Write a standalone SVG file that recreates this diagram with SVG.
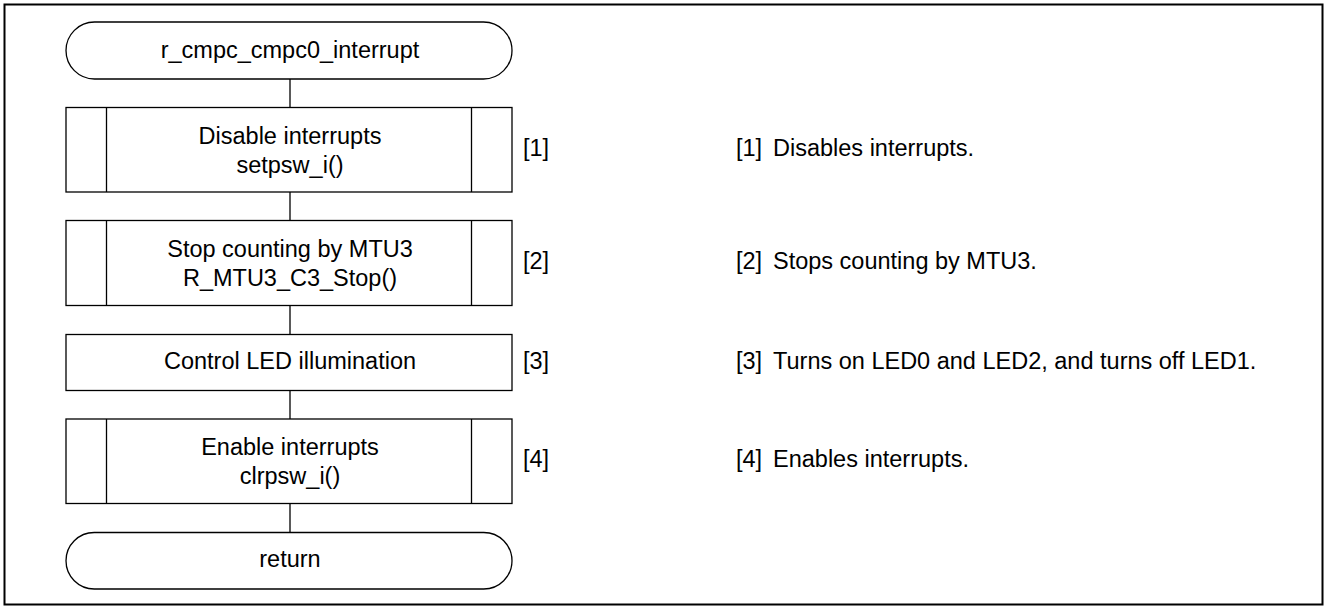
<svg xmlns="http://www.w3.org/2000/svg" width="1326" height="608" viewBox="0 0 1326 608">
<style>
  text { font-family: "Liberation Sans", Arial, sans-serif; font-size: 23.5px; fill: #000; }
  .c { text-anchor: middle; }
  .shape { fill: #fff; stroke: #000; stroke-width: 1.3; }
  .line { stroke: #000; stroke-width: 1.3; fill: none; }
</style>
<rect x="0" y="0" width="1326" height="608" fill="#fff"/>
<rect x="4.5" y="4.5" width="1318" height="600" fill="none" stroke="#000" stroke-width="2"/>
<g id="connectors">
  <line class="line" x1="290" y1="79" x2="290" y2="107.5"/>
  <line class="line" x1="290" y1="192" x2="290" y2="220.5"/>
  <line class="line" x1="290" y1="305.5" x2="290" y2="334.5"/>
  <line class="line" x1="290" y1="390.5" x2="290" y2="419"/>
  <line class="line" x1="290" y1="503.5" x2="290" y2="532.5"/>
</g>
<g id="start">
  <rect class="shape" x="66" y="22" width="446" height="57" rx="28.5" ry="28.5"/>
  <text class="c" x="290" y="57.5">r_cmpc_cmpc0_interrupt</text>
</g>
<g id="step1">
  <rect class="shape" x="66" y="107.5" width="446" height="84.5"/>
  <line class="line" x1="106.5" y1="107.5" x2="106.5" y2="192"/>
  <line class="line" x1="471.5" y1="107.5" x2="471.5" y2="192"/>
  <text class="c" x="290" y="143.5">Disable interrupts</text>
  <text class="c" x="290" y="172.5">setpsw_i()</text>
  <text x="523" y="156">[1]</text>
</g>
<g id="step2">
  <rect class="shape" x="66" y="220.5" width="446" height="85"/>
  <line class="line" x1="106.5" y1="220.5" x2="106.5" y2="305.5"/>
  <line class="line" x1="471.5" y1="220.5" x2="471.5" y2="305.5"/>
  <text class="c" x="290" y="257">Stop counting by MTU3</text>
  <text class="c" x="290" y="286">R_MTU3_C3_Stop()</text>
  <text x="523" y="269">[2]</text>
</g>
<g id="step3">
  <rect class="shape" x="66" y="334.5" width="446" height="56"/>
  <text class="c" x="290" y="368.5">Control LED illumination</text>
  <text x="523" y="368.5">[3]</text>
</g>
<g id="step4">
  <rect class="shape" x="66" y="419" width="446" height="84.5"/>
  <line class="line" x1="106.5" y1="419" x2="106.5" y2="503.5"/>
  <line class="line" x1="471.5" y1="419" x2="471.5" y2="503.5"/>
  <text class="c" x="290" y="455">Enable interrupts</text>
  <text class="c" x="290" y="484">clrpsw_i()</text>
  <text x="523" y="467">[4]</text>
</g>
<g id="end">
  <rect class="shape" x="66" y="532.5" width="446" height="56.5" rx="28.25" ry="28.25"/>
  <text class="c" x="290" y="567">return</text>
</g>
<g id="notes">
  <text x="736" y="156">[1]</text><text x="773" y="156">Disables interrupts.</text>
  <text x="736" y="269">[2]</text><text x="773" y="269">Stops counting by MTU3.</text>
  <text x="736" y="368.5">[3]</text><text x="773" y="368.5">Turns on LED0 and LED2, and turns off LED1.</text>
  <text x="736" y="467">[4]</text><text x="773" y="467">Enables interrupts.</text>
</g>
</svg>
